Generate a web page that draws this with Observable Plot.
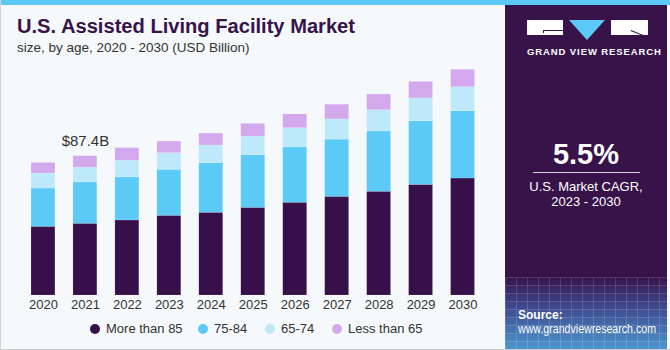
<!DOCTYPE html>
<html>
<head>
<meta charset="utf-8">
<script src="https://cdn.jsdelivr.net/npm/d3@7"></script>
<script src="https://cdn.jsdelivr.net/npm/@observablehq/plot@0.6"></script>
<style>
  html, body { margin: 0; padding: 0; background: #ffffff; }
  #wrap { position: relative; width: 670px; height: 350px; overflow: hidden; background: #f5f9fc; font-family: "Liberation Sans", Arial, sans-serif; }
  #topbar { position: absolute; left: 0; top: 0; width: 670px; height: 5px; background: #5bc8f5; }
  #edge { position: absolute; left: 0; top: 0; width: 669px; height: 349px; border-left: 1px solid #d0d4d8; border-bottom: 1px solid #c8ccd0; box-sizing: content-box; pointer-events: none; }
  #title { position: absolute; left: 17px; top: 15px; font-size: 20px; font-weight: bold; color: #37134a; white-space: nowrap; transform-origin: 0 0; }
  #subtitle { position: absolute; left: 17px; top: 40px; font-size: 13.5px; color: #333; white-space: nowrap; }
  #chart { position: absolute; left: 0; top: 0; }
  #legend { position: absolute; left: 0; top: 320px; width: 505px; height: 18px; font-size: 13px; color: #333; }
  .li { position: absolute; top: 0; white-space: nowrap; line-height: 18px; }
  .dot { position: absolute; top: 4px; width: 10px; height: 10px; border-radius: 50%; }
  #panel { position: absolute; left: 505px; top: 5px; width: 162px; height: 344px; background: #37134a; overflow: hidden; }
  #grid { position: absolute; left: 0; top: 272px; width: 162px; height: 72px;
    background: linear-gradient(to bottom, rgba(55,19,74,1) 0%, rgba(62,68,138,1) 38%, rgba(76,150,205,1) 100%); }
  #gridlines { position: absolute; left: 0; top: 0; width: 162px; height: 72px; opacity: 0.17;
    background-image: repeating-linear-gradient(to right, rgba(255,255,255,0.9) 0 1px, transparent 1px 11px),
                      repeating-linear-gradient(to bottom, rgba(255,255,255,0.9) 0 1px, transparent 1px 8px); }
  .pt { position: absolute; color: #fff; white-space: nowrap; }
</style>
</head>
<body>
<div id="wrap">
  <div id="topbar"></div>
  <div id="title">U.S. Assisted Living Facility Market</div>
  <div id="subtitle">size, by age, 2020 - 2030 (USD Billion)</div>
  <div id="chart"></div>
  <div id="legend"></div>
  <div id="panel">
    <div id="grid"><div id="gridlines"></div></div>
    <!-- logo -->
    <div style="position:absolute;left:22px;top:15px;width:36px;height:15px;background:#fff;"></div>
    <div style="position:absolute;left:38px;top:25px;width:20px;height:1px;background:#37134a;"></div>
    <div style="position:absolute;left:38px;top:25px;width:1px;height:3px;background:#37134a;"></div>
    <div style="position:absolute;left:64px;top:15px;width:0;height:0;border-left:18.5px solid transparent;border-right:18.5px solid transparent;border-top:20px solid #5bc8f5;"></div>
    <div style="position:absolute;left:106px;top:15px;width:37px;height:15px;background:#fff;overflow:hidden;">
      <div style="position:absolute;left:20px;top:10px;width:18px;height:1px;background:#37134a;transform:rotate(22deg);transform-origin:0 0;"></div>
    </div>
    <div class="pt" style="left:22px;top:41px;width:121px;text-align:center;font-size:9.5px;font-weight:bold;letter-spacing:0.9px;">GRAND VIEW RESEARCH</div>
    <div class="pt" style="left:0;top:133px;width:162px;text-align:center;font-size:29px;font-weight:bold;">5.5%</div>
    <div style="position:absolute;left:28px;top:167px;width:107px;height:1px;background:#d8d0e0;"></div>
    <div class="pt" style="left:0;top:174px;width:162px;text-align:center;font-size:13px;line-height:15px;">U.S. Market CAGR,<br>2023 - 2030</div>
    <div class="pt" style="left:13px;top:303px;font-size:12px;font-weight:bold;line-height:14px;">Source:</div>
    <div class="pt" id="src" style="left:13px;top:317px;font-size:12px;line-height:14px;transform-origin:0 0;">www.grandviewresearch.com</div>
  </div>
  <div id="edge"></div>
</div>
<script>
const years = ["2020","2021","2022","2023","2024","2025","2026","2027","2028","2029","2030"];
const groups = ["More than 85", "75-84", "65-74", "Less than 65"];
const colors = ["#37104a", "#5bcaf7", "#bde9fa", "#d4a8ec"];
const moreThan85 = [43.1, 45.0, 47.1, 50.0, 51.9, 55.0, 58.2, 61.9, 65.1, 69.4, 73.4];
const age75to84  = [24.0, 25.9, 27.0, 28.9, 31.1, 33.0, 34.7, 35.9, 37.8, 39.9, 42.2];
const age65to74  = [9.4, 9.4, 10.5, 10.4, 11.1, 11.7, 12.1, 12.7, 13.4, 14.4, 15.1];
const lessThan65 = [6.7, 7.1, 7.9, 7.3, 7.5, 8.0, 8.6, 9.2, 9.8, 10.3, 10.9];
const annotationYear = "2021";
const annotationText = "$87.4B";

const series = [moreThan85, age75to84, age65to74, lessThan65];
const data = [];
years.forEach((yr, i) => {
  groups.forEach((g, j) => data.push({year: yr, group: g, value: series[j][i]}));
});
const totals = years.map((yr, i) => ({year: yr, total: series.reduce((s, a) => s + a[i], 0)}));
const annot = totals.filter(d => d.year === annotationYear);

const chart = Plot.plot({
  width: 505,
  height: 350,
  marginLeft: 31,
  marginRight: 30.5,
  marginTop: 40,
  marginBottom: 55,
  style: { background: "transparent", fontFamily: "Liberation Sans, Arial, sans-serif", fontSize: "13px", color: "#333" },
  x: { domain: years, paddingInner: 0.43, paddingOuter: 0, round: false, label: null, tickSize: 0, tickPadding: 4 },
  y: { domain: [0, 160], axis: null },
  color: { domain: groups, range: colors },
  marks: [
    Plot.barY(data, { x: "year", y: "value", fill: "group", order: groups, stroke: "#ffffff", strokeOpacity: 0.25, strokeWidth: 0.5 }),
    Plot.text(annot, { x: "year", y: "total", text: () => annotationText, lineAnchor: "bottom", dy: -10, fontSize: 15, fill: "#333" })
  ]
});
document.getElementById("chart").appendChild(chart);

// legend
const legend = document.getElementById("legend");
const legendX = [90, 198, 265, 332];
groups.forEach((g, i) => {
  const item = document.createElement("div");
  item.className = "li";
  item.style.left = legendX[i] + "px";
  item.innerHTML = `<span class="dot" style="left:0;background:${colors[i]}"></span><span style="margin-left:16px">${g}</span>`;
  legend.appendChild(item);
});

// fit widths
function fit(id, target) {
  const el = document.getElementById(id);
  const w = el.getBoundingClientRect().width;
  el.style.transform = `scaleX(${target / w})`;
}
fit("title", 338);
fit("src", 138);
</script>
</body>
</html>
